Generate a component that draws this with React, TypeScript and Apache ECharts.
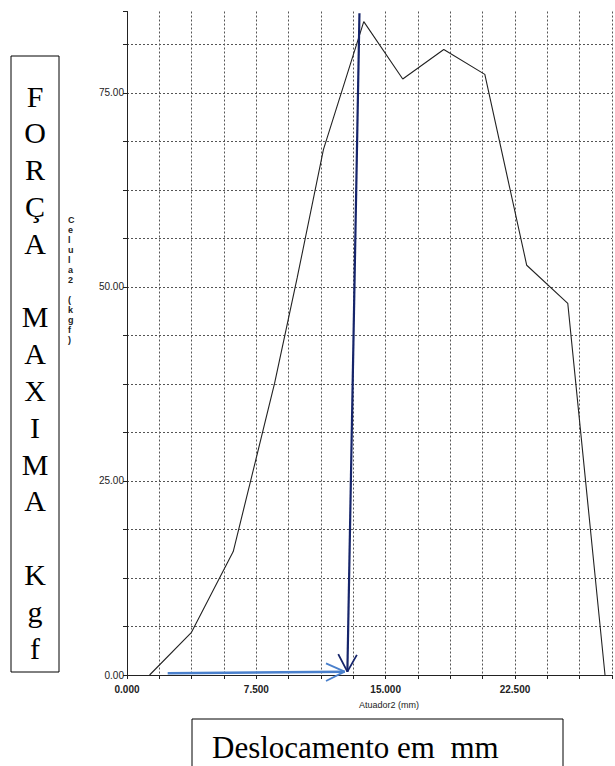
import React, { useEffect, useRef } from "react";
import * as echarts from "echarts";

// Displacement (mm) and force (kgf)
const displacementMm = [1.31, 3.74, 6.16, 8.56, 9.87, 11.39, 13.73, 15.99, 18.37, 20.75, 23.18, 25.56, 27.72];
const forceKgf = [0, 5.5, 15.9, 37.6, 51.2, 67.7, 84.2, 76.8, 80.6, 77.4, 52.8, 47.9, 0];

// Tick labels
const xTickLabels = ["0.000", "7.500", "15.000", "22.500"];
const yTickLabels = ["0.00", "25.00", "50.00", "75.00"];

// Hand-drawn annotation arrows (data coordinates)
const peakArrowX = [13.48, 12.78];
const peakArrowY = [85.27, 0.43];
const peakHeadX = [12.25, 12.78, 13.33];
const peakHeadY = [2.7, 0.43, 2.6];
const dispArrowX = [2.36, 12.62];
const dispArrowY = [0.22, 0.43];
const dispHeadX = [11.54, 12.62, 11.54];
const dispHeadY = [1.5, 0.43, -0.77];

const xAxisName = "Atuador2 (mm)";
const yAxisName = "Celula2 (kgf)";
const leftTitle = "FORÇA MAXIMA Kgf";
const bottomTitle = "Deslocamento em  mm";

const zip = (xs: number[], ys: number[]) => xs.map((x, i) => [x, ys[i]]);

const stack = (s: string) =>
  s
    .split("")
    .map((c) => (c === " " ? " " : c))
    .join("\n");

export default function App() {
  const ref = useRef<HTMLDivElement>(null);

  useEffect(() => {
    if (!ref.current) return;
    const chart = echarts.init(ref.current, null, { renderer: "svg" });

    const annot = (data: number[][], color: string, width: number) => ({
      type: "line",
      data,
      showSymbol: false,
      symbol: "none",
      clip: false,
      silent: true,
      lineStyle: { color, width },
      z: 5,
    });

    chart.setOption({
      animation: false,
      backgroundColor: "#ffffff",
      grid: { left: 127, right: -5, top: 11.5, bottom: 91, containLabel: false },
      xAxis: {
        type: "value",
        min: 0,
        max: 28.125,
        interval: 1.875,
        name: xAxisName,
        nameLocation: "middle",
        nameGap: 25,
        nameTextStyle: {
          fontFamily: "Liberation Sans",
          fontSize: 9,
          color: "#222",
          padding: [0, 0, 0, 39],
        },
        axisLine: { show: true, lineStyle: { color: "#222", width: 1 } },
        axisTick: { show: true, length: 4, lineStyle: { color: "#222" } },
        axisLabel: {
          margin: 9,
          fontFamily: "Liberation Sans",
          fontSize: 10,
          fontWeight: "bold",
          color: "#222",
          formatter: (v: number) => {
            const idx = Math.round(v / 7.5);
            return Math.abs(v - idx * 7.5) < 1e-9 && xTickLabels[idx] ? xTickLabels[idx] : "";
          },
        },
        splitLine: {
          show: true,
          lineStyle: { type: [2, 2], color: "#555", width: 1 },
        },
      },
      yAxis: {
        type: "value",
        min: 0,
        max: 85.5,
        interval: 6.25,
        axisLine: { show: true, lineStyle: { color: "#222", width: 1 } },
        axisTick: { show: true, length: 4, lineStyle: { color: "#222" } },
        axisLabel: {
          margin: 3,
          fontFamily: "Liberation Sans",
          fontSize: 10,
          color: "#222",
          formatter: (v: number) => {
            const idx = Math.round(v / 25);
            return Math.abs(v - idx * 25) < 1e-9 && yTickLabels[idx] ? yTickLabels[idx] : "";
          },
        },
        splitLine: {
          show: true,
          showMaxLine: false,
          lineStyle: { type: [2, 2], color: "#555", width: 1 },
        },
      },
      series: [
        {
          type: "line",
          name: yAxisName,
          data: zip(displacementMm, forceKgf),
          showSymbol: false,
          symbol: "none",
          lineStyle: { color: "#222", width: 1.1 },
          z: 4,
        },
        annot(zip(dispArrowX, dispArrowY), "#4a80cc", 2.5),
        annot(zip(dispHeadX, dispHeadY), "#4a80cc", 1.8),
        annot(zip(peakArrowX, peakArrowY), "#16256b", 2.2),
        annot(zip(peakHeadX, peakHeadY), "#16256b", 1.8),
      ],
      graphic: [
        {
          type: "text",
          left: 68,
          top: 215,
          style: {
            text: stack(yAxisName),
            fontFamily: "Liberation Sans",
            fontSize: 9,
            fontWeight: "bold",
            lineHeight: 10,
            fill: "#222",
            align: "center",
          },
        },
        {
          type: "rect",
          shape: { x: 11, y: 56, width: 48, height: 616 },
          style: { fill: "#fff", stroke: "#000", lineWidth: 1 },
        },
        {
          type: "text",
          x: 35,
          y: 372,
          style: {
            text: stack(leftTitle),
            fontFamily: "Liberation Serif",
            fontSize: 30,
            lineHeight: 36.8,
            fill: "#000",
            align: "center",
            verticalAlign: "middle",
          },
        },
        {
          type: "rect",
          shape: { x: 192, y: 719, width: 371, height: 70 },
          style: { fill: "#fff", stroke: "#000", lineWidth: 1 },
        },
        {
          type: "text",
          x: 212,
          y: 747,
          style: {
            text: bottomTitle,
            fontFamily: "Liberation Serif",
            fontSize: 31,
            fill: "#000",
            align: "left",
            verticalAlign: "middle",
          },
        },
      ],
    });

    return () => chart.dispose();
  }, []);

  return (
    <div
      ref={ref}
      style={{ position: "absolute", left: 0, top: 0, width: 615, height: 766, background: "#fff" }}
    />
  );
}
